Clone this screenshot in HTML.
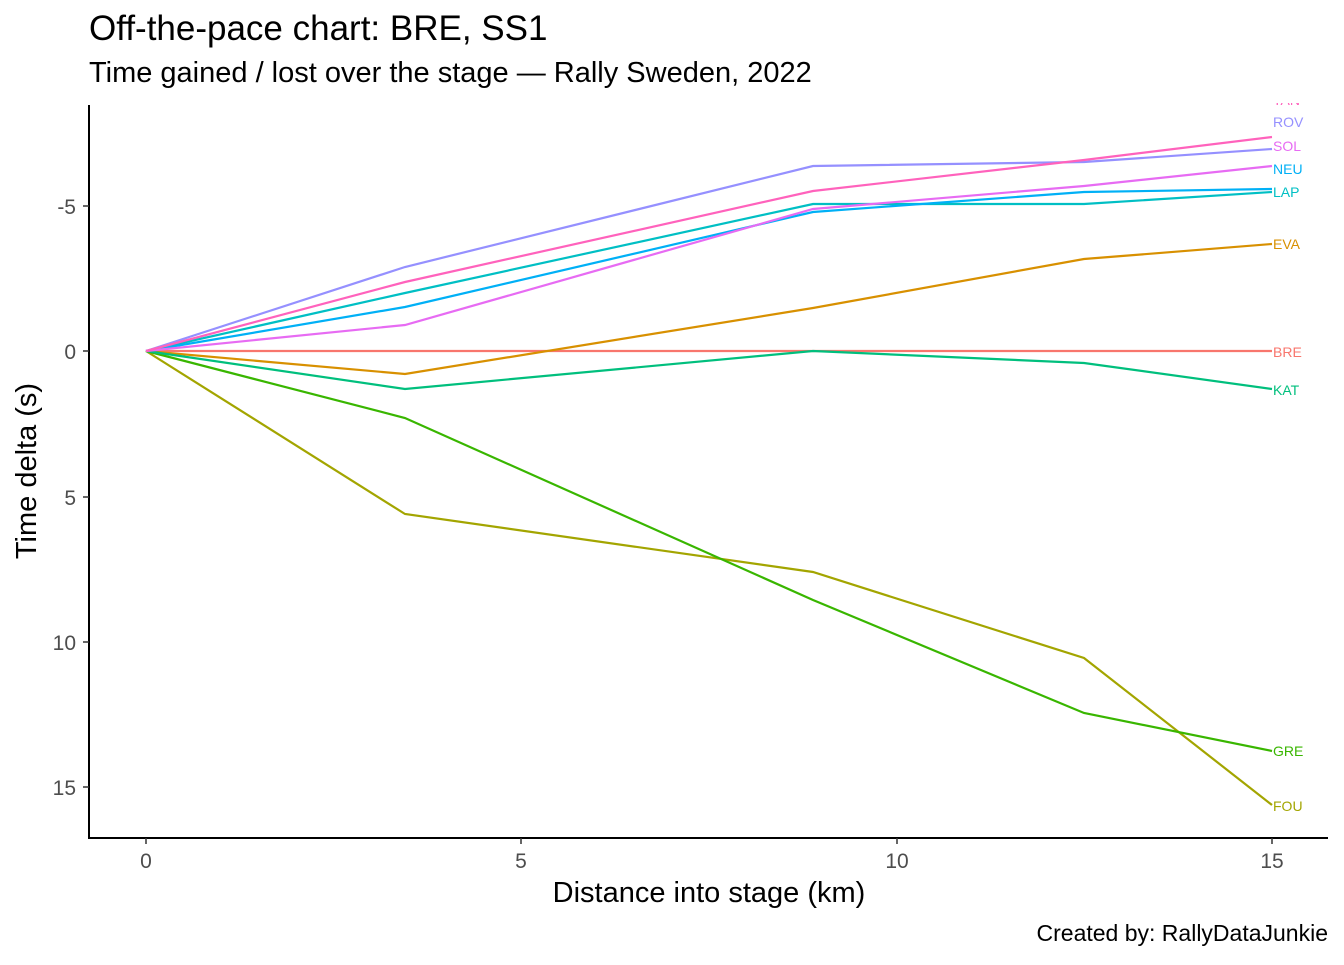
<!DOCTYPE html>
<html><head><meta charset="utf-8"><style>body{margin:0;background:#fff}</style></head><body>
<svg width="1344" height="960" xmlns="http://www.w3.org/2000/svg" font-family="Liberation Sans, sans-serif">
<rect width="1344" height="960" fill="#fff"/>
<text x="89" y="40" font-size="35">Off-the-pace chart: BRE, SS1</text>
<text x="89" y="82" font-size="29">Time gained / lost over the stage — Rally Sweden, 2022</text>
<defs><clipPath id="c"><rect x="89" y="103" width="1250" height="735"/></clipPath></defs>
<g fill="none" stroke-width="2.2">
<polyline stroke="#F8766D" points="146,351 405,351 813,351 1084,351 1272,351"/>
<polyline stroke="#D89000" points="146,351 405,374 813,308 1084,259 1272,244"/>
<polyline stroke="#A3A500" points="146,351 405,514 813,572 1084,658 1272,805"/>
<polyline stroke="#39B600" points="146,351 405,418 813,600 1084,713 1272,751"/>
<polyline stroke="#00BF7D" points="146,351 405,389 813,351 1084,363 1272,389"/>
<polyline stroke="#00BFC4" points="146,351 405,293 813,204 1084,204 1272,192"/>
<polyline stroke="#00B0F6" points="146,351 405,307 813,212 1084,192 1272,189"/>
<polyline stroke="#E76BF3" points="146,351 405,325 813,209 1084,186 1272,166"/>
<polyline stroke="#9590FF" points="146,351 405,267 813,166 1084,162 1272,149"/>
<polyline stroke="#FF62BC" points="146,351 405,282 813,191 1084,160 1272,137"/>
</g>
<g font-size="14" clip-path="url(#c)">
<text x="1273" y="105" fill="#FF62BC">TAN</text>
<text x="1273" y="127" fill="#9590FF">ROV</text>
<text x="1273" y="151" fill="#E76BF3">SOL</text>
<text x="1273" y="174" fill="#00B0F6">NEU</text>
<text x="1273" y="197" fill="#00BFC4">LAP</text>
<text x="1273" y="249" fill="#D89000">EVA</text>
<text x="1273" y="357" fill="#F8766D">BRE</text>
<text x="1273" y="395" fill="#00BF7D">KAT</text>
<text x="1273" y="756" fill="#39B600">GRE</text>
<text x="1273" y="811" fill="#A3A500">FOU</text>
</g>
<g stroke="#000" stroke-width="2"><line x1="89" y1="105" x2="89" y2="839"/><line x1="88" y1="838" x2="1328" y2="838"/></g>
<g stroke="#333" stroke-width="1.5">
<line x1="83" y1="206" x2="89" y2="206"/><line x1="83" y1="351" x2="89" y2="351"/><line x1="83" y1="497" x2="89" y2="497"/><line x1="83" y1="642" x2="89" y2="642"/><line x1="83" y1="787" x2="89" y2="787"/>
<line x1="146" y1="838" x2="146" y2="844"/><line x1="521" y1="838" x2="521" y2="844"/><line x1="897" y1="838" x2="897" y2="844"/><line x1="1272" y1="838" x2="1272" y2="844"/>
</g>
<g font-size="21" fill="#4d4d4d" text-anchor="end">
<text x="76" y="214">-5</text><text x="76" y="359">0</text><text x="76" y="505">5</text><text x="76" y="650">10</text><text x="76" y="795">15</text>
</g>
<g font-size="21" fill="#4d4d4d" text-anchor="middle">
<text x="146" y="868">0</text><text x="521" y="868">5</text><text x="897" y="868">10</text><text x="1272" y="868">15</text>
</g>
<text x="709" y="902" font-size="29" text-anchor="middle">Distance into stage (km)</text>
<text transform="translate(36,471) rotate(-90)" font-size="29" text-anchor="middle">Time delta (s)</text>
<text x="1328" y="941" font-size="23" text-anchor="end">Created by: RallyDataJunkie</text>
</svg>
</body></html>
